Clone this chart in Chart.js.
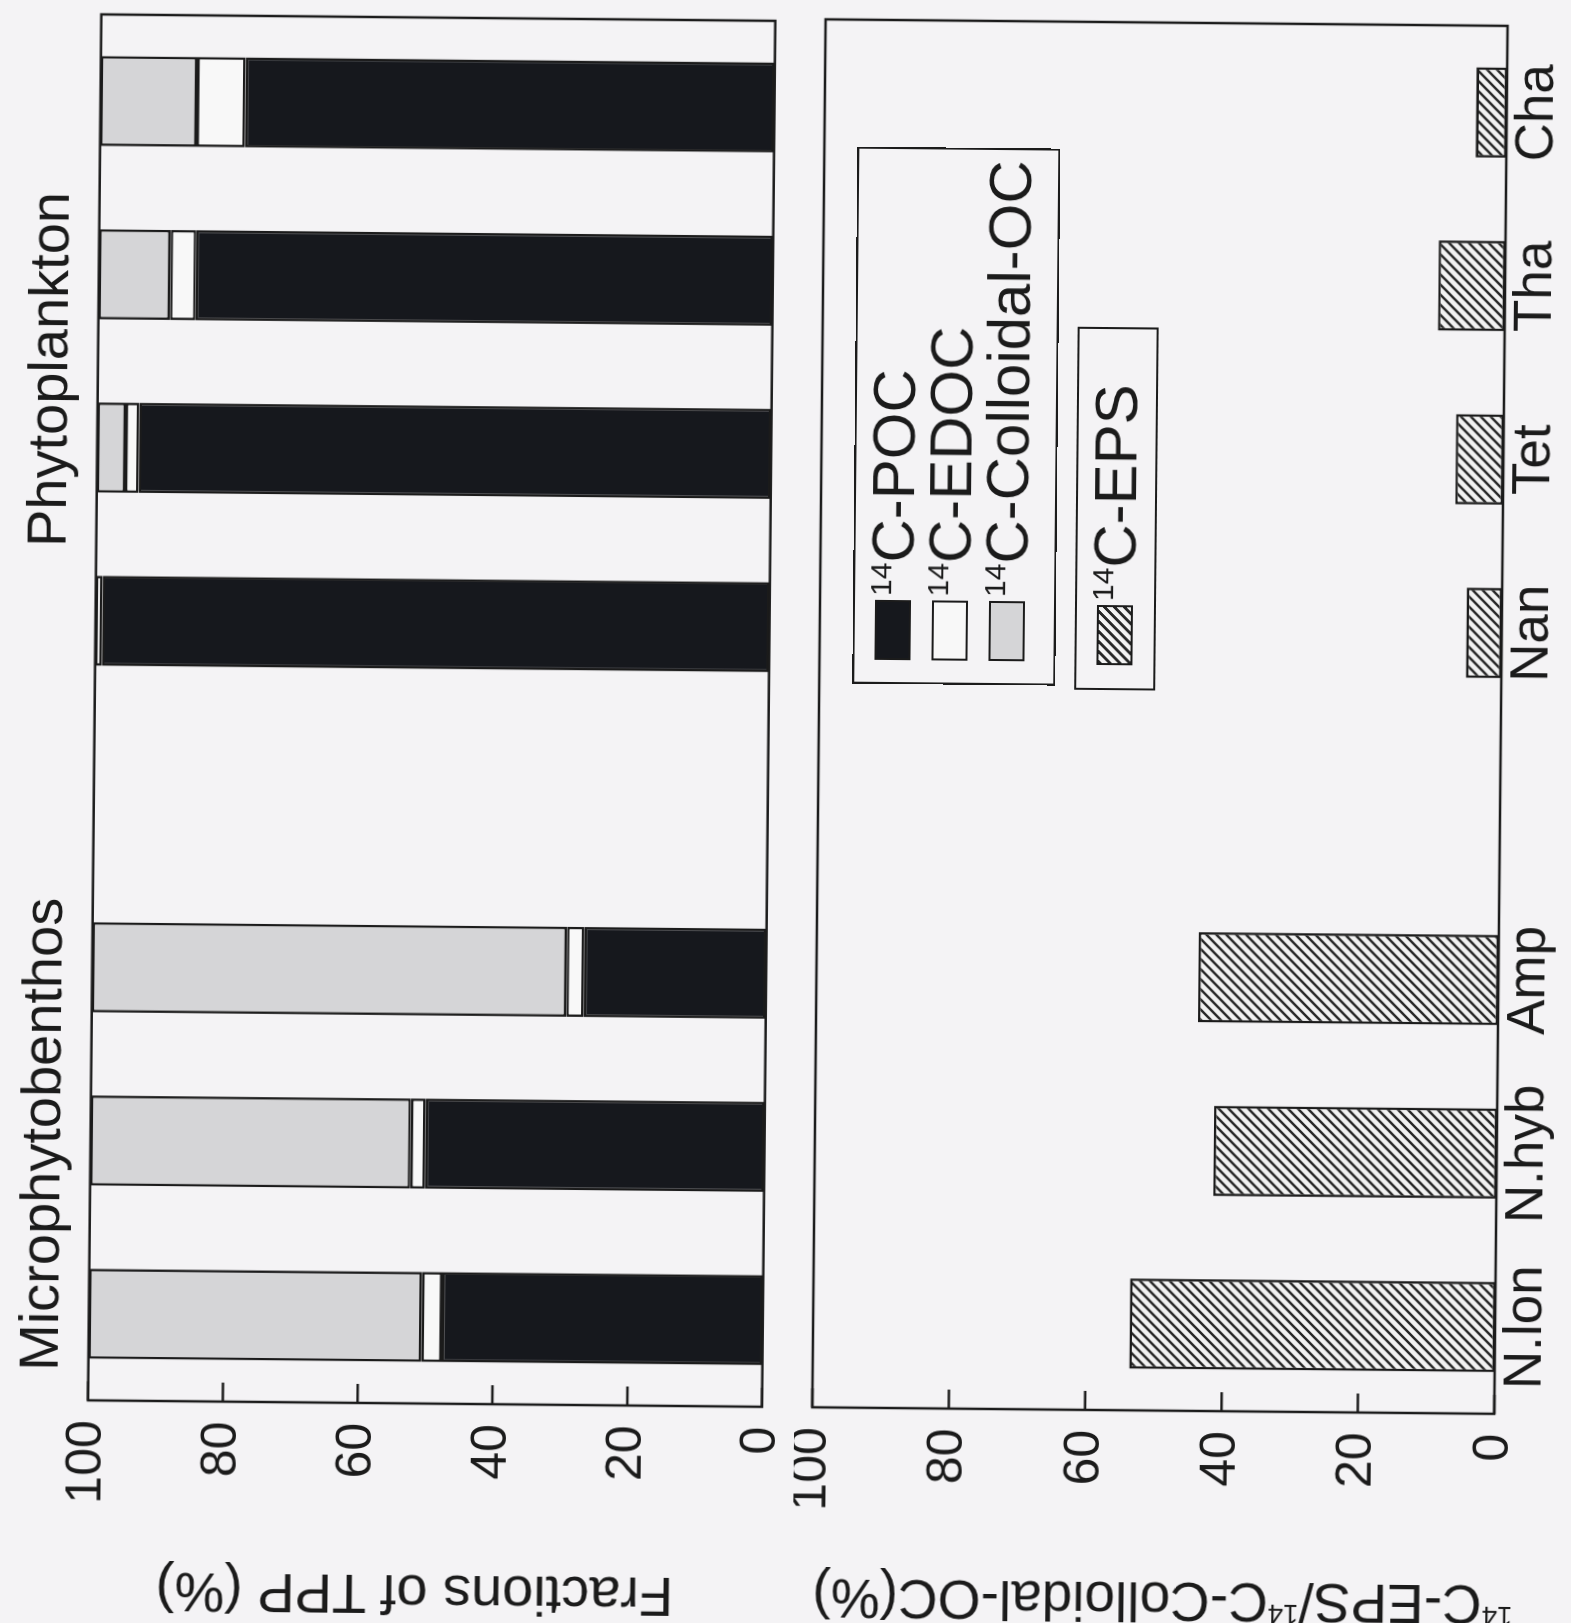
<!DOCTYPE html>
<html>
<head>
<meta charset="utf-8">
<script src="https://cdn.jsdelivr.net/npm/chart.js@4.4.1/dist/chart.umd.min.js"></script>
<style>
  html, body { margin: 0; padding: 0; background: #f4f3f5; width: 1571px; height: 1623px; overflow: hidden; }
  /* The figure is laid out upright, then turned to lie on its side */
  #figure {
    position: absolute; left: -26px; top: 26px; width: 1623px; height: 1571px;
    transform: rotate(-89.45deg); transform-origin: 50% 50%;
    font-family: "Liberation Sans", Arial, Helvetica, sans-serif; color: #1b1b1b;
  }
  canvas { position: absolute; left: 0; }
  #cTop { top: 0; }
  #cBottom { top: 800px; }
  .lbl { position: absolute; white-space: nowrap; line-height: 1; }
  .vtitle { transform: translate(-50%, -50%) rotate(-90deg); font-size: 56px; }
  .vtitle.eps { font-size: 55px; }
  .group { font-size: 56px; }
  .sup { font-size: 0.5em; vertical-align: 0.75em; }
  .legend { position: absolute; border: 2.5px solid #1b1b1b; box-sizing: border-box; }
  .sw { position: absolute; width: 60px; height: 36px; border: 2.5px solid #1b1b1b; box-sizing: border-box; }
  .ltxt { position: absolute; font-size: 60px; line-height: 1; white-space: nowrap; }
  .sw.poc { background: #16181d; }
  .sw.edoc { background: #f8f8f8; }
  .sw.coll { background: #d5d5d7; }
  .sw.eps { background: repeating-linear-gradient(135deg, #262626 0 2.4px, #f2f2f2 2.4px 7.07px); }
</style>
</head>
<body>
<div id="figure">
  <canvas id="cTop" width="1623" height="800"></canvas>
  <canvas id="cBottom" width="1623" height="771"></canvas>

  <div class="lbl group" style="left:245px; top:16px;">Microphytobenthos</div>
  <div class="lbl group" style="left:1069px; top:16px;">Phytoplankton</div>

  <div class="lbl vtitle" style="left:25px; top:422px;">Fractions of TPP (%)</div>
  <div class="lbl vtitle eps" style="left:25px; top:1170px;"><span class="sup">14</span>C-EPS/<span class="sup">14</span>C-Colloidal-OC(%)</div>

  <div class="legend" style="left:940px; top:851px; width:537px; height:203px;">
    <div class="sw poc"  style="left:22px; top:20px;"></div>
    <div class="ltxt"    style="left:86px; top:8px;"><span class="sup">14</span>C-POC</div>
    <div class="sw edoc" style="left:22px; top:77px;"></div>
    <div class="ltxt"    style="left:86px; top:65px;"><span class="sup">14</span>C-EDOC</div>
    <div class="sw coll" style="left:22px; top:134px;"></div>
    <div class="ltxt"    style="left:86px; top:122px;"><span class="sup">14</span>C-Colloidal-OC</div>
  </div>
  <div class="legend" style="left:936px; top:1073px; width:363px; height:81px;">
    <div class="sw eps"  style="left:23px; top:20px;"></div>
    <div class="ltxt"    style="left:87px; top:8px;"><span class="sup">14</span>C-EPS</div>
  </div>
</div>

<script>
// Species (an empty slot separates the two groups)
const categories = ['N.lon', 'N.hyb', 'Amp', '', 'Nan', 'Tet', 'Tha', 'Cha'];

// Fractions of total primary production (%)
const pocShare       = [47.6, 50.3, 27.0, null, 99.0, 93.8, 85.6, 78.5];
const edocShare      = [3.0, 2.2, 2.6, null, 1.0, 2.0, 3.8, 7.2];
const colloidalShare = [49.4, 47.5, 70.4, null, null, 4.2, 10.6, 14.3];

// EPS as a share of colloidal organic carbon (%)
const epsRatio = [53.6, 41.5, 44.0, null, 5.2, 7.0, 9.8, 4.5];

// Value axis ticks
const valueTicks = [0, 20, 40, 60, 80, 100];

const INK = '#1b1b1b';
const FONT = '"Liberation Sans", Arial, Helvetica, sans-serif';

// Diagonal hatch used for the EPS bars
function hatchPattern() {
  const c = document.createElement('canvas');
  c.width = 10; c.height = 10;
  const g = c.getContext('2d');
  g.fillStyle = '#f2f2f2';
  g.fillRect(0, 0, 10, 10);
  g.strokeStyle = '#262626';
  g.lineWidth = 2.4;
  g.beginPath();
  g.moveTo(-5, 5); g.lineTo(5, -5);
  g.moveTo(0, 10); g.lineTo(10, 0);
  g.moveTo(5, 15); g.lineTo(15, 5);
  g.stroke();
  return g.createPattern(c, 'repeat');
}

// Frame around the plot area with inward ticks on the value axis
const framePlugin = {
  id: 'frame',
  afterDatasetsDraw(chart) {
    const { ctx, chartArea: a, scales: { y } } = chart;
    ctx.save();
    ctx.strokeStyle = INK;
    ctx.lineWidth = 2.5;
    ctx.strokeRect(a.left, a.top, a.right - a.left, a.bottom - a.top);
    ctx.beginPath();
    valueTicks.forEach(v => {
      const py = y.getPixelForValue(v);
      ctx.moveTo(a.left, py);
      ctx.lineTo(a.left + 19, py);
    });
    ctx.stroke();
    ctx.restore();
  }
};

function valueScale() {
  return {
    min: 0, max: 100,
    afterBuildTicks(s) { s.ticks = valueTicks.map(v => ({ value: v })); },
    grid: { display: false, drawTicks: false },
    border: { display: false },
    ticks: { padding: 20, color: INK, font: { family: FONT, size: 50 } },
    afterFit(s) { s.width = 216; s.paddingTop = 0; s.paddingBottom = 0; }
  };
}

const barStyle = {
  borderColor: INK, borderWidth: 2.6, borderSkipped: false,
  categoryPercentage: 1, barPercentage: 0.52
};

const common = {
  responsive: false, animation: false, devicePixelRatio: 1,
  plugins: { legend: { display: false }, tooltip: { enabled: false } },
  datasets: { bar: barStyle }
};

new Chart(document.getElementById('cTop'), {
  type: 'bar',
  data: {
    labels: categories,
    datasets: [
      { label: '14C-POC', data: pocShare, backgroundColor: '#16181d' },
      { label: '14C-EDOC', data: edocShare, backgroundColor: '#f8f8f8' },
      { label: '14C-Colloidal-OC', data: colloidalShare, backgroundColor: '#d5d5d7' }
    ]
  },
  options: Object.assign({}, common, {
    layout: { padding: { left: 0, right: 21, top: 93.7, bottom: 32.3 } },
    scales: {
      x: {
        stacked: true,
        grid: { display: false, drawTicks: false }, border: { display: false },
        ticks: { display: false },
        afterFit(s) { s.height = 0; s.paddingLeft = 0; s.paddingRight = 0; }
      },
      y: Object.assign(valueScale(), { stacked: true })
    }
  }),
  plugins: [framePlugin]
});

new Chart(document.getElementById('cBottom'), {
  type: 'bar',
  data: {
    labels: categories,
    datasets: [
      { label: '14C-EPS', data: epsRatio, backgroundColor: hatchPattern() }
    ]
  },
  options: Object.assign({}, common, {
    layout: { padding: { left: 0, right: 19, top: 18, bottom: 0 } },
    scales: {
      x: {
        grid: { display: false, drawTicks: false }, border: { display: false },
        ticks: { padding: 5, autoSkip: false, maxRotation: 0, color: INK,
                 font: { family: FONT, size: 53, lineHeight: 1 } },
        afterFit(s) { s.height = 71; s.paddingLeft = 0; s.paddingRight = 0; }
      },
      y: valueScale()
    }
  }),
  plugins: [framePlugin]
});
</script>
</body>
</html>
